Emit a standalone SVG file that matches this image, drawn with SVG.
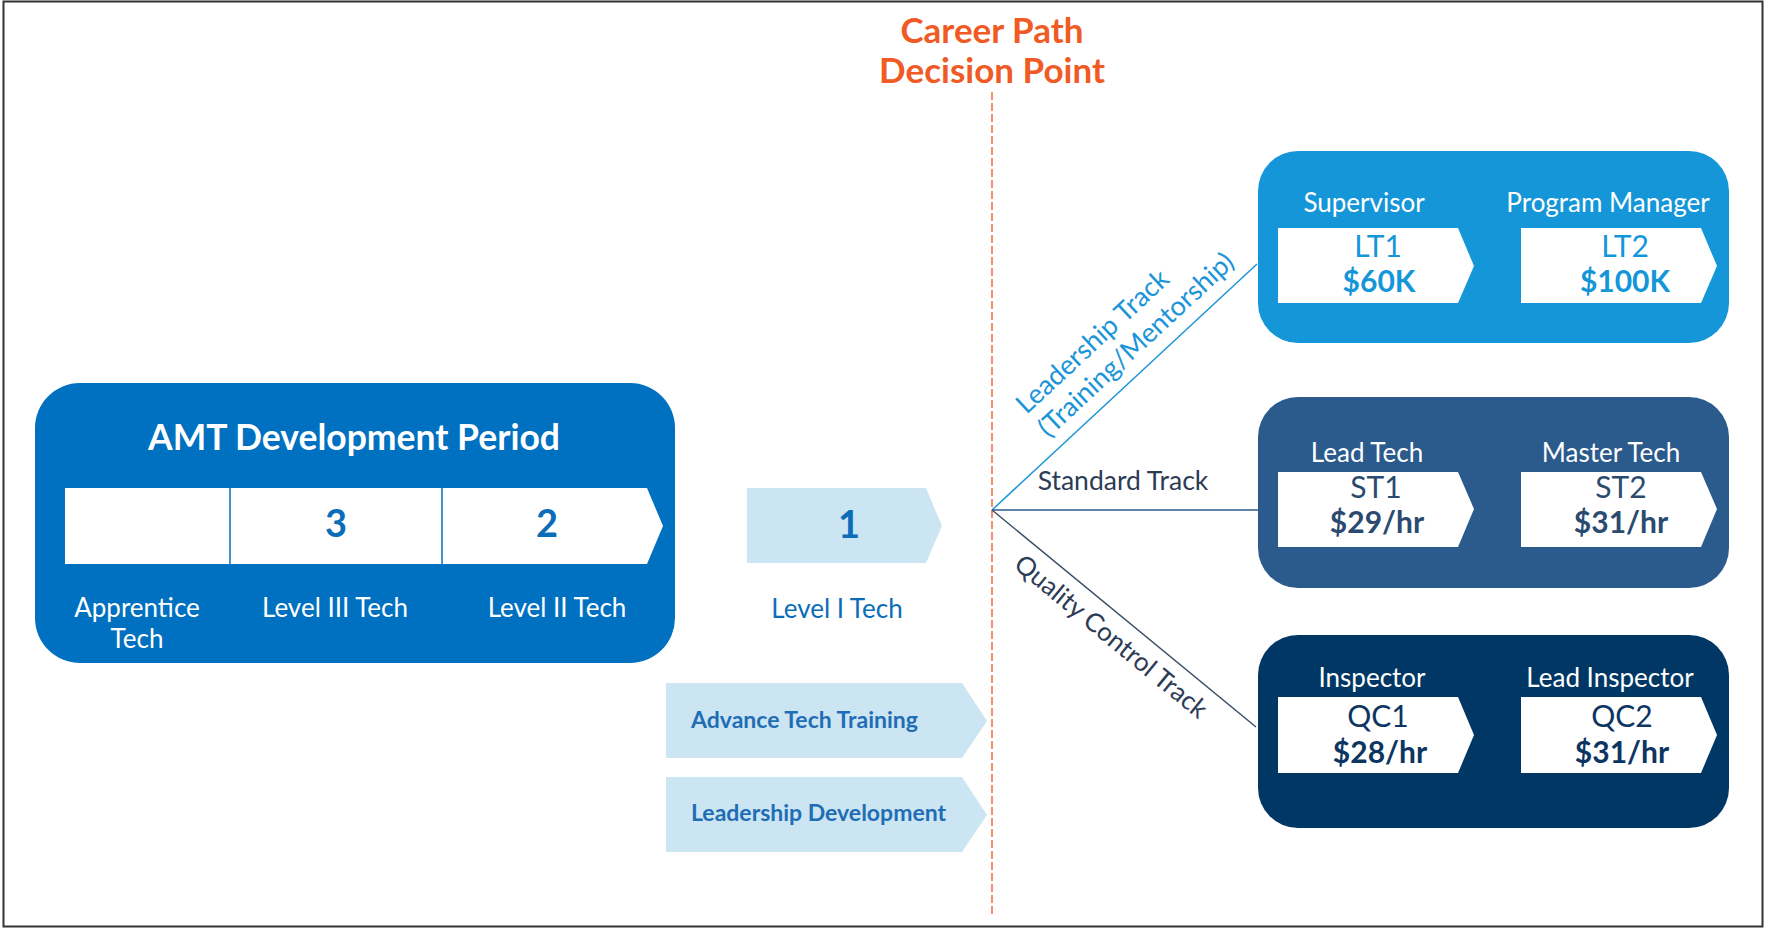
<svg xmlns="http://www.w3.org/2000/svg" width="1767" height="929" viewBox="0 0 1767 929">
<style>
  text { font-family: Lato, "Noto Sans", "Liberation Sans", sans-serif; }
  .lbl { font-size: 26px; fill: #ffffff; text-anchor: middle; }
  .code { font-size: 30px; text-anchor: middle; }
  .pay { font-size: 30px; font-weight: bold; text-anchor: middle; }
  .num { font-size: 38px; font-weight: bold; fill: #0B6DB8; text-anchor: middle; }
  .chev { fill: #ffffff; }
  .lchev { fill: #CCE5F2; }
  .orange { fill: #F05A24; font-size: 35px; font-weight: bold; text-anchor: middle; }
  .train { fill: #1F6DB5; font-size: 23px; font-weight: bold; }
</style>
<rect x="0" y="0" width="1767" height="929" fill="#ffffff"/>
<rect x="3.5" y="1.5" width="1759" height="925" fill="none" stroke="#333333" stroke-width="2"/>

<g id="decision-point">
  <text class="orange" x="992" y="43">Career Path</text>
  <text class="orange" x="992" y="83">Decision Point</text>
  <line x1="992" y1="92" x2="992" y2="915" stroke="#F26B3A" stroke-width="1.5" stroke-dasharray="8 3"/>
</g>

<g id="amt-development">
  <rect x="35" y="383" width="640" height="280" rx="45" ry="45" fill="#0070C0"/>
  <text x="354" y="450" fill="#ffffff" font-size="35.5" font-weight="bold" text-anchor="middle">AMT Development Period</text>
  <path class="chev" d="M65,488 H647 L663,526 L647,564 H65 Z"/>
  <line x1="230" y1="488" x2="230" y2="564" stroke="#0070C0" stroke-width="1.5"/>
  <line x1="442" y1="488" x2="442" y2="564" stroke="#0070C0" stroke-width="1.5"/>
  <text class="num" x="336" y="537">3</text>
  <text class="num" x="547" y="537">2</text>
  <text class="lbl" x="137" y="617">Apprentice</text>
  <text class="lbl" x="137" y="648">Tech</text>
  <text class="lbl" x="335" y="617">Level III Tech</text>
  <text class="lbl" x="557" y="617">Level II Tech</text>
</g>

<g id="level-1">
  <path class="lchev" d="M747,488 H926 L942,526 L926,563 H747 Z"/>
  <text class="num" x="849" y="538">1</text>
  <text x="837" y="618" font-size="26" fill="#0B6DB8" text-anchor="middle">Level I Tech</text>
</g>

<g id="advance-tech-training">
  <path class="lchev" d="M666,683 H962 L987,721 L962,758 H666 Z"/>
  <text class="train" x="691" y="728">Advance Tech Training</text>
</g>

<g id="leadership-development">
  <path class="lchev" d="M666,777 H962 L987,815 L962,852 H666 Z"/>
  <text class="train" x="691" y="821">Leadership Development</text>
</g>

<g id="connectors">
  <line x1="992" y1="510" x2="1257" y2="264" stroke="#1B95D8" stroke-width="1.5"/>
  <line x1="992" y1="510" x2="1258" y2="510" stroke="#2B5A8C" stroke-width="1.5"/>
  <line x1="992" y1="510" x2="1256" y2="727" stroke="#3C4F66" stroke-width="1.5"/>
  <g transform="translate(992,510) rotate(-42.9)" font-size="27" fill="#1B95D8">
    <text x="90" y="-46">Leadership Track</text>
    <text x="90" y="-14">(Training/Mentorship)</text>
  </g>
  <text x="1123" y="490" font-size="26.5" fill="#2D3B55" text-anchor="middle">Standard Track</text>
  <g transform="translate(992,510) rotate(39.4)" font-size="26" fill="#2D3B55">
    <text x="52" y="31">Quality Control Track</text>
  </g>
</g>

<g id="leadership-track">
  <rect x="1258" y="151" width="471" height="192" rx="40" ry="40" fill="#1596D8"/>
  <text class="lbl" x="1364" y="212">Supervisor</text>
  <text class="lbl" x="1608" y="212">Program Manager</text>
  <path class="chev" d="M1278,228 H1458 L1474,266 L1458,303 H1278 Z"/>
  <path class="chev" d="M1521,228 H1701 L1717,266 L1701,303 H1521 Z"/>
  <text class="code" x="1378" y="257" fill="#1596D8">LT1</text>
  <text class="pay" x="1379" y="292" fill="#1596D8">$60K</text>
  <text class="code" x="1625" y="257" fill="#1596D8">LT2</text>
  <text class="pay" x="1625" y="292" fill="#1596D8">$100K</text>
</g>

<g id="standard-track">
  <rect x="1258" y="397" width="471" height="191" rx="40" ry="40" fill="#2B5A8C"/>
  <text class="lbl" x="1367" y="462">Lead Tech</text>
  <text class="lbl" x="1611" y="462">Master Tech</text>
  <path class="chev" d="M1278,472 H1458 L1474,509 L1458,547 H1278 Z"/>
  <path class="chev" d="M1521,472 H1701 L1717,509 L1701,547 H1521 Z"/>
  <text class="code" x="1376" y="498" fill="#2B4A70">ST1</text>
  <text class="pay" x="1377" y="533" fill="#2B4A70">$29/hr</text>
  <text class="code" x="1621" y="498" fill="#2B4A70">ST2</text>
  <text class="pay" x="1621" y="533" fill="#2B4A70">$31/hr</text>
</g>

<g id="quality-control-track">
  <rect x="1258" y="635" width="471" height="193" rx="40" ry="40" fill="#003764"/>
  <text class="lbl" x="1372" y="687">Inspector</text>
  <text class="lbl" x="1610" y="687">Lead Inspector</text>
  <path class="chev" d="M1278,697 H1458 L1474,735 L1458,773 H1278 Z"/>
  <path class="chev" d="M1521,697 H1701 L1717,735 L1701,773 H1521 Z"/>
  <text class="code" x="1378" y="727" fill="#0D3561">QC1</text>
  <text class="pay" x="1380" y="763" fill="#0D3561">$28/hr</text>
  <text class="code" x="1622" y="727" fill="#0D3561">QC2</text>
  <text class="pay" x="1622" y="763" fill="#0D3561">$31/hr</text>
</g>
</svg>
